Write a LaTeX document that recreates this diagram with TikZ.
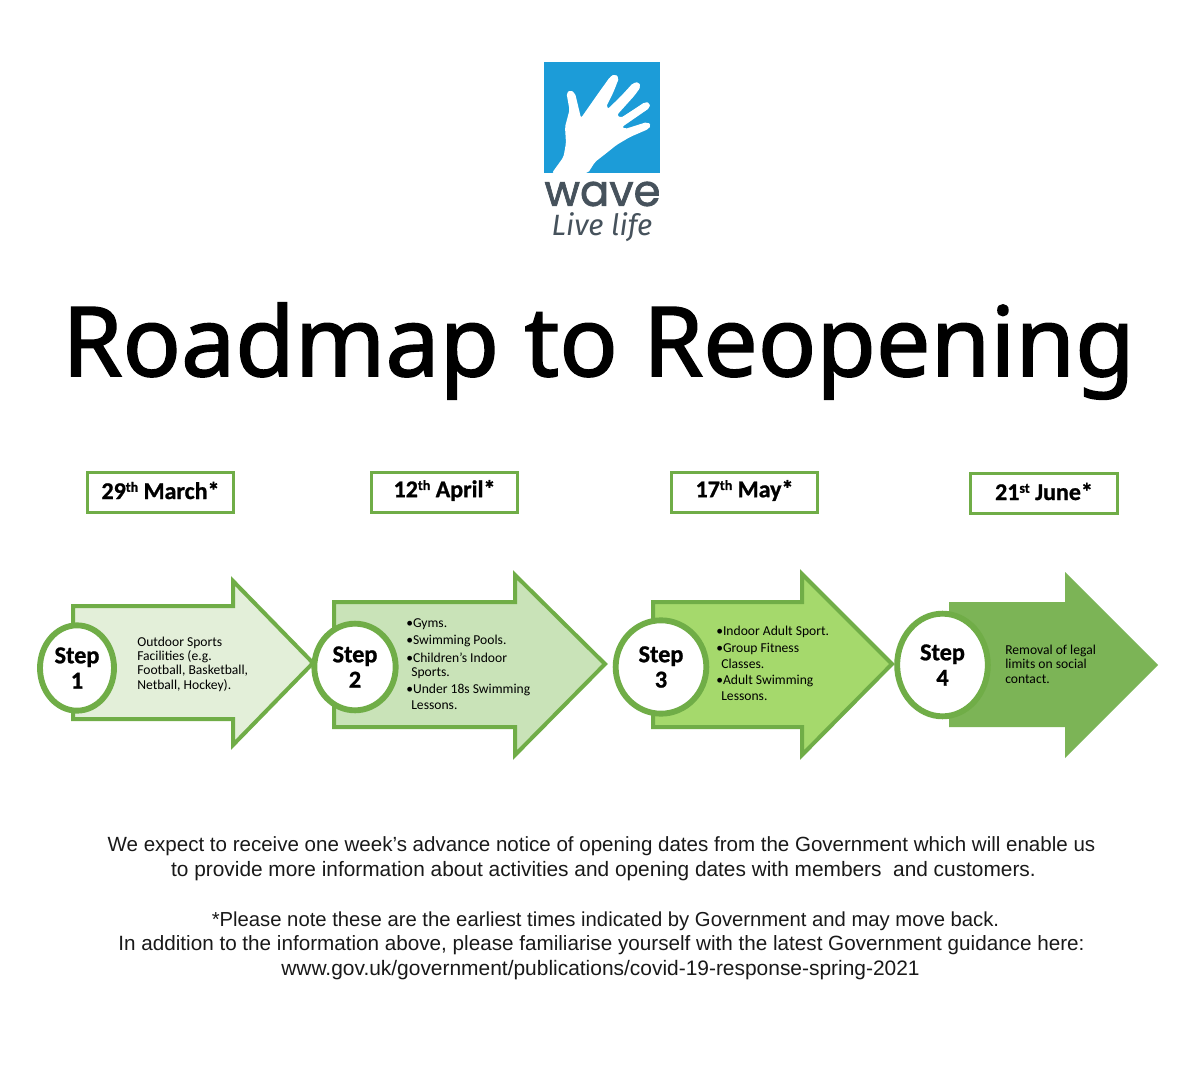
\documentclass[tikz,border=0pt]{standalone}
\usepackage{fontspec}
\setmainfont{Liberation Sans}
\newfontfamily\carlitof{Carlito}
\newfontfamily\carlitoB[FakeBold=1.0]{Carlito Bold}
\newfontfamily\wavefont[FakeBold=1.6]{Poppins}
\newfontfamily\titlefont[FakeBold=1.6]{Noto Sans}
\newfontfamily\livefont{Fira Sans}
\usetikzlibrary{shapes.geometric}
\definecolor{gr}{HTML}{70AD47}
\definecolor{blu}{HTML}{1C9CD8}
\definecolor{slate}{HTML}{46525C}
\definecolor{fillA}{HTML}{E3EFD9}
\definecolor{fillB}{HTML}{C9E3B8}
\definecolor{fillC}{HTML}{A5D96C}
\definecolor{fillD}{HTML}{7CB456}
\newcommand{\sth}[1]{\raisebox{.62ex}{\fontsize{10.5}{11}\selectfont #1}}
\newcommand{\psize}[1]{\fontsize{#1}{17}\selectfont}
\tikzset{
 x=.75pt,y=-.75pt,
 arrowshape/.style={draw=gr,line width=3pt,miter limit=10},
 datebox/.style={draw=gr,line width=2.2pt,fill=white,minimum width=109pt,minimum height=29.5pt,inner sep=0pt},
 stepc/.style={ellipse,draw=gr,line width=4.4pt,fill=white,inner sep=0pt,align=center,font=\carlitoB\fontsize{18.2}{19}\selectfont},
 info/.style={anchor=west,inner sep=0pt,align=left,font=\carlitof\fontsize{10.2}{10.8}\selectfont,text=black},
 para/.style={inner sep=0pt,text=black!90},
 datetext/.style={inner sep=0pt,font=\carlitoB\fontsize{18}{20}\selectfont},
 finger/.style={draw=white,line cap=round},
}
\begin{document}
\begin{tikzpicture}
\useasboundingbox (0,0) rectangle (1200,1081);
\fill[white] (0,0) rectangle (1200,1081);
% logo
\fill[blu] (544,62) rectangle (660,173);
\fill[white,rounded corners=1.5pt] (552,173) -- (563.5,157) -- (566,143) -- (565,127) -- (569.5,110) -- (566.5,93) -- (570,90) -- (575,93) -- (581,118) -- (598.5,93) -- (610,77) -- (615,74) -- (619,78) -- (613.5,92) -- (606,107) -- (609.5,109) -- (633,83) -- (639,82) -- (640.5,87) -- (635,95) -- (617,115) -- (621,118) -- (645,102) -- (650,103) -- (649.5,108) -- (622,127) -- (625,129) -- (647,122) -- (651,125) -- (648.5,129) -- (630,137) -- (616.5,145) -- (606.5,153) -- (595,162) -- (588,173) -- cycle;
\draw[finger,line width=6pt] (597,103) -- (614,79);
\draw[finger,line width=5.6pt] (610,112) -- (636,87);
\draw[finger,line width=5pt] (619,123) -- (646,106);
\draw[finger,line width=4pt] (622,134) -- (647.5,125.5);
\draw[finger,line width=3.6pt] (570,94) -- (574,112);
\node[inner sep=0pt,text=slate] (wave) at (602.5,194) {\wavefont\fontsize{32.5}{34}\selectfont wave};
\node[inner sep=0pt,text=slate] (live) at (602,227) {\livefont\itshape\fontsize{22}{24}\selectfont Live life};
% title
\node[inner sep=0pt] (title) at (598.5,351) {\titlefont\fontsize{72.6}{80}\selectfont Roadmap to Reopening};
% dates
\node[datebox] (d1) at (160.5,492.5) {};
\node[datebox] (d2) at (444.5,492.5) {};
\node[datebox] (d3) at (744.5,492.5) {};
\node[datebox,minimum width=110pt] (d4) at (1044,493.5) {};
\node[datetext] (dt1) at (160.5,490.5) {29\sth{th} March*};
\node[datetext] (dt2) at (444.5,490.5) {12\sth{th} April*};
\node[datetext] (dt3) at (744.5,490.5) {17\sth{th} May*};
\node[datetext] (dt4) at (1044,491.5) {21\sth{st} June*};
% arrows
\filldraw[arrowshape,fill=fillA] (73,606) -- (233,606) -- (233,581) -- (313,663) -- (233,745) -- (233,719) -- (73,719) -- cycle;
\filldraw[arrowshape,fill=fillB] (334,602) -- (515,602) -- (515,575) -- (605,664) -- (515,755) -- (515,727) -- (334,727) -- cycle;
\filldraw[arrowshape,fill=fillC] (653,602) -- (802,602) -- (802,574) -- (892,664) -- (802,755) -- (802,727) -- (653,727) -- cycle;
\filldraw[draw=none,fill=fillD] (949,602) -- (1065,602) -- (1065,572) -- (1158,665) -- (1065,758) -- (1065,727) -- (949,727) -- cycle;
% circles
\node[stepc,minimum width=55.5pt,minimum height=64pt] (s1) at (77,668) {Step\\1};
\node[stepc,minimum width=61pt,minimum height=65pt] (s2) at (355,667) {Step\\2};
\node[stepc,minimum width=68pt,minimum height=70pt] (s3) at (661,667) {Step\\3};
\node[stepc,minimum width=68pt,minimum height=77pt] (s4) at (942.5,665) {Step\\4};
% arrow texts
\node[info] (t1) at (137,664) {Outdoor Sports\\Facilities (e.g.\\Football, Basketball,\\Netball, Hockey).};
\node[info] (t2) at (406,624) {•Gyms.};
\node[info] (t2b) at (406,641) {•Swimming Pools.};
\node[info] (t2c) at (406,658) {•Children’s Indoor};
\node[info] (t2d) at (411,673) {Sports.};
\node[info] (t2e) at (406,690) {•Under 18s Swimming};
\node[info] (t2f) at (411,705) {Lessons.};
\node[info] (t3) at (716,632) {•Indoor Adult Sport.};
\node[info] (t3b) at (716,649) {•Group Fitness};
\node[info] (t3c) at (721,664) {Classes.};
\node[info] (t3d) at (716,681) {•Adult Swimming};
\node[info] (t3e) at (721,696) {Lessons.};
\node[info] (t4) at (1005,664) {Removal of legal\\limits on social\\contact.};
% paragraphs
\node[para] (p1) at (601.5,846.5) {\psize{15.4}We expect to receive one week’s advance notice of opening dates from the Government which will enable us};
\node[para] (p2) at (603.5,871.5) {\psize{15.64}to provide more information about activities and opening dates with members\ \ and customers.};
\node[para] (p3) at (605.5,921.5) {\psize{15.2}*Please note these are the earliest times indicated by Government and may move back.};
\node[para] (p4) at (601.5,945.5) {\psize{15.5}In addition to the information above, please familiarise yourself with the latest Government guidance here:};
\node[para] (p5) at (600.5,970.5) {\psize{15.7}www.gov.uk/government/publications/covid-19-response-spring-2021};
\end{tikzpicture}
\end{document}
